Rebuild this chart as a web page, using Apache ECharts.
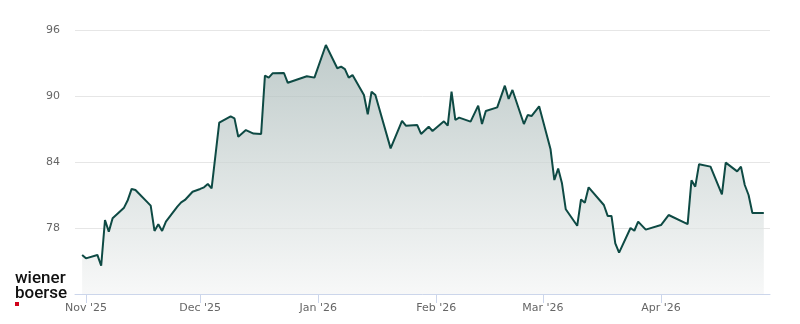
<!DOCTYPE html>
<html>
<head>
<meta charset="utf-8">
<script src="https://cdn.jsdelivr.net/npm/echarts@6/dist/echarts.min.js"></script>
<style>
html,body{margin:0;padding:0;background:#fff;}
#chart{width:800px;height:324px;}
</style>
</head>
<body>
<div id="chart"></div>
<script>
const dates = [
'2025-10-31','2025-11-01','2025-11-04','2025-11-05','2025-11-06','2025-11-07','2025-11-08','2025-11-11','2025-11-12','2025-11-13',
'2025-11-14','2025-11-18','2025-11-19','2025-11-20','2025-11-21','2025-11-22','2025-11-25','2025-11-26','2025-11-27','2025-11-29',
'2025-12-01','2025-12-02','2025-12-03','2025-12-04','2025-12-06','2025-12-09','2025-12-10','2025-12-11','2025-12-13','2025-12-15',
'2025-12-17','2025-12-18','2025-12-19','2025-12-20','2025-12-23','2025-12-24','2025-12-29','2025-12-31','2026-01-03','2026-01-06',
'2026-01-07','2026-01-08','2026-01-09','2026-01-10','2026-01-13','2026-01-14','2026-01-15','2026-01-16','2026-01-20','2026-01-23',
'2026-01-24','2026-01-27','2026-01-28','2026-01-30','2026-01-31','2026-02-03','2026-02-04','2026-02-05','2026-02-06','2026-02-07',
'2026-02-10','2026-02-12','2026-02-13','2026-02-14','2026-02-17','2026-02-19','2026-02-20','2026-02-21','2026-02-24','2026-02-25',
'2026-02-26','2026-02-28','2026-03-03','2026-03-04','2026-03-05','2026-03-06','2026-03-07','2026-03-10','2026-03-11','2026-03-12',
'2026-03-13','2026-03-17','2026-03-18','2026-03-19','2026-03-20','2026-03-21','2026-03-24','2026-03-25','2026-03-26','2026-03-28',
'2026-04-01','2026-04-03','2026-04-08','2026-04-09','2026-04-10','2026-04-11','2026-04-14','2026-04-17','2026-04-18','2026-04-21',
'2026-04-22','2026-04-23','2026-04-24','2026-04-25','2026-04-28'
];
const prices = [
75.55,75.24,75.55,74.57,78.73,77.67,78.88,79.85,80.55,81.55,
81.45,80.03,77.73,78.33,77.73,78.58,79.94,80.33,80.55,81.3,
81.55,81.7,82.0,81.6,87.57,88.15,87.97,86.3,86.9,86.58,
86.55,91.85,91.67,92.06,92.09,91.2,91.79,91.67,94.64,92.52,
92.67,92.45,91.67,91.9,90.09,88.34,90.39,90.09,85.24,87.73,
87.3,87.36,86.55,87.21,86.82,87.7,87.3,90.4,87.82,88.03,
87.67,89.12,87.45,88.64,88.97,90.94,89.73,90.55,87.45,88.27,
88.18,89.06,85.15,82.36,83.4,82.06,79.7,78.2,80.6,80.3,
81.7,80.09,79.1,79.1,76.6,75.76,78.0,77.75,78.58,77.85,
78.27,79.18,78.36,82.33,81.76,83.8,83.58,81.06,83.94,83.15,
83.58,81.91,81.0,79.36,79.36
];
const monthTicks = ['2025-11-01','2025-12-01','2026-01-01','2026-02-01','2026-03-01','2026-04-01'];
const monthNames = ['Jan','Feb','Mar','Apr','May','Jun','Jul','Aug','Sep','Oct','Nov','Dec'];
const yTicks = [72, 78, 84, 90, 96];
const logoLines = ['wiener', 'boerse'];

const P = s => echarts.number.parseDate(s).getTime();
const seriesData = dates.map((d, i) => [P(d), prices[i]]);
const tickVals = monthTicks.map(P);

const chart = echarts.init(document.getElementById('chart'), null, {renderer: 'canvas'});
chart.setOption({
  animation: false,
  backgroundColor: '#ffffff',
  grid: {left: 75, right: 30, top: 30, bottom: 30, containLabel: false},
  xAxis: {
    type: 'value',
    min: P('2025-10-29 03:00'),
    max: P('2026-04-29 15:00'),
    axisLine: {show: true, onZero: false, lineStyle: {color: '#ccd6eb', width: 1}},
    axisTick: {show: true, customValues: tickVals, length: 9, lineStyle: {color: '#ccd6eb', width: 1}},
    axisLabel: {
      customValues: tickVals,
      color: '#666666', fontSize: 11, fontFamily: 'DejaVu Sans', margin: 9,
      formatter: v => { const d = new Date(v); return monthNames[d.getMonth()] + " '" + String(d.getFullYear()).slice(2); }
    },
    splitLine: {show: false}
  },
  yAxis: {
    type: 'value',
    min: yTicks[0], max: yTicks[yTicks.length - 1], interval: 6,
    axisLine: {show: false},
    axisTick: {show: false},
    axisLabel: {
      color: '#666666', fontSize: 11, fontFamily: 'DejaVu Sans', margin: 15,
      showMinLabel: false
    },
    splitLine: {show: true, lineStyle: {color: '#e6e6e6', width: 1}}
  },
  series: [{
    type: 'line',
    data: seriesData,
    showSymbol: false,
    symbol: 'none',
    lineStyle: {color: '#0e4a44', width: 2},
    itemStyle: {color: '#0e4a44'},
    areaStyle: {
      color: new echarts.graphic.LinearGradient(0, 0, 0, 1, [
        {offset: 0, color: '#a4b5b4'},
        {offset: 0.5, color: '#cdd6d5'},
        {offset: 1, color: '#f4f5f5'}
      ])
    }
  }],
  graphic: [
    {type: 'text', left: 15, top: 270, style: {text: logoLines[0], font: '500 17px Roboto', fill: '#111111'}},
    {type: 'text', left: 15, top: 285, style: {text: logoLines[1], font: '500 17px Roboto', fill: '#111111'}},
    {type: 'rect', shape: {x: 15, y: 302, width: 4, height: 4}, style: {fill: '#d0021b'}}
  ]
});
</script>
</body>
</html>
